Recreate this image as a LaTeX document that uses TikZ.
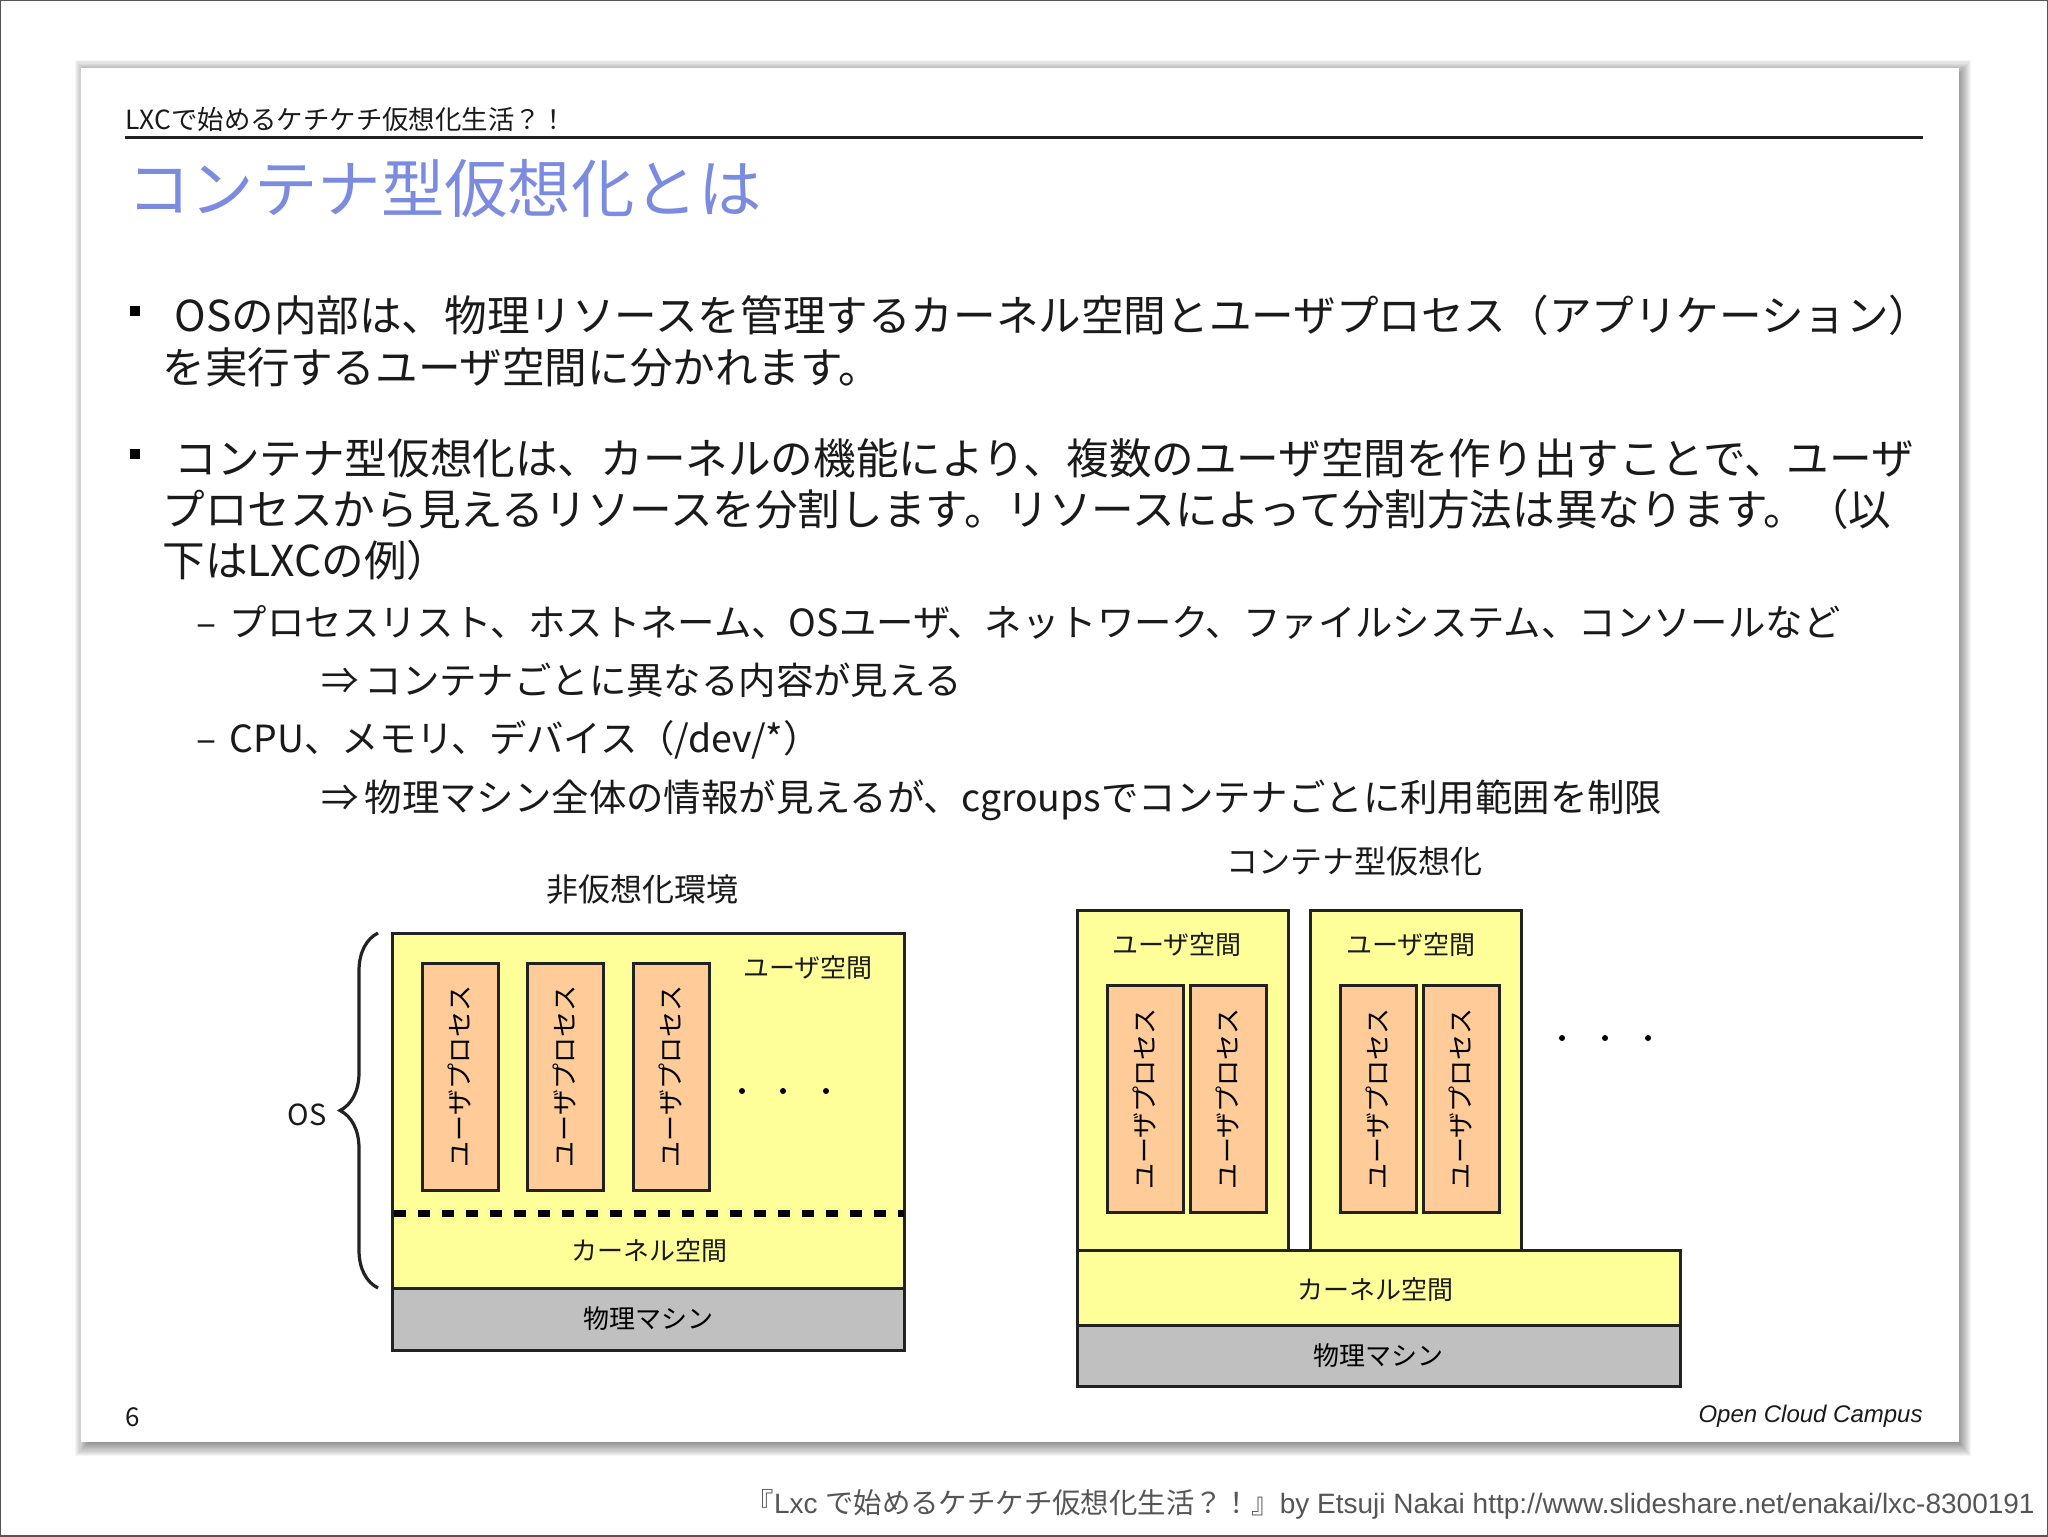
\documentclass[tikz,border=0pt]{standalone}
\usepackage{fontspec}
\setmainfont{Noto Sans CJK JP}
\newfontfamily\arialfont{Liberation Sans}
\usetikzlibrary{positioning, decorations.pathreplacing}

% full-width signs
\newcommand{\fwopen}{\symbol{"FF08}}
\newcommand{\fwclose}{\symbol{"FF09}}
\newcommand{\fwask}{\symbol{"FF1F}}
\newcommand{\fwbang}{\symbol{"FF01}}

\definecolor{titleblue}{HTML}{7B8CE0}
\definecolor{userfill}{HTML}{FFFF99}
\definecolor{procfill}{HTML}{FFCC99}
\definecolor{machfill}{HTML}{C0C0C0}
\definecolor{inkline}{HTML}{222222}
\definecolor{inktext}{HTML}{1A1A1A}
\definecolor{capgray}{HTML}{555555}

\tikzset{
	boxline/.style={draw=inkline, line width=1.5pt, inner sep=0pt, outer sep=0pt},
	userbox/.style={boxline, fill=userfill, anchor=north west, minimum width=105.5pt, minimum height=170pt},
	kernbox/.style={boxline, fill=userfill, anchor=north west},
	machbox/.style={boxline, fill=machfill, anchor=north west, font=\fontsize{13}{13}\selectfont},
	procbox/.style={boxline, fill=procfill, minimum width=38pt, minimum height=113.5pt, font=\fontsize{13}{13}\selectfont},
	dotmark/.style={circle, fill=black, inner sep=0pt, minimum size=3pt},
	bodyline/.style={anchor=west, inner sep=0pt, text=inktext, font=\fontsize{21.3}{21.3}\selectfont, text height=18.7pt, text depth=2.6pt},
	subline/.style={anchor=west, inner sep=0pt, text=inktext, font=\fontsize{18.7}{18.7}\selectfont, text height=16.5pt, text depth=2.2pt},
	smalltext/.style={inner sep=0pt, text=inktext, font=\fontsize{13}{13}\selectfont},
	headtext/.style={inner sep=0pt, text=inktext, font=\fontsize{16}{16}\selectfont},
	bulletmark/.style={fill=black, inner sep=0pt, minimum size=5pt},
}

\begin{document}
\begin{tikzpicture}[x=0.5pt, y=-0.5pt]
	\useasboundingbox (0,0) rectangle (2048,1536);
	\draw[capgray, line width=1pt] (0,0) rectangle (2048,1536);

	% slide with its shadow
	\foreach \s in {0,...,12}
		\fill[black, opacity=0.04] (75+1.1*\s,60+1.2*\s) rectangle (1971-\s,1456-1.1*\s);
	\fill[white] (81,68) rectangle (1959,1442);

	% heading
	\node[anchor=west, inner sep=0pt, text=inktext, font=\fontsize{13.2}{13.2}\selectfont] (header) at (125,119) {LXCで始めるケチケチ仮想化生活\fwask\fwbang};
	\coordinate (ruleL) at (125,137);
	\coordinate (ruleR) at (1923,137);
	\draw[inkline, line width=1.5pt] (ruleL) -- (ruleR);
	\node[anchor=west, inner sep=0pt, text=titleblue, font=\fontsize{31.7}{31.7}\selectfont] (title) at (127,189) {コンテナ型仮想化とは};

	% text lines
	\node[bulletmark] (bulletA) at (135,311) {};
	\node[bodyline] (lineA) at (174,315) {OSの内部は、物理リソースを管理するカーネル空間とユーザプロセス\fwopen アプリケーション\fwclose};
	\node[bodyline] (lineB) at (162,367) {を実行するユーザ空間に分かれます。};
	\node[bulletmark] (bulletB) at (135,454) {};
	\node[bodyline] (lineC) at (174,458) {コンテナ型仮想化は、カーネルの機能により、複数のユーザ空間を作り出すことで、ユーザ};
	\node[bodyline] (lineD) at (162,509) {プロセスから見えるリソースを分割します。リソースによって分割方法は異なります。\fwopen 以};
	\node[bodyline] (lineE) at (162,560) {下はLXCの例\fwclose};
	\node[subline] (lineF) at (196,622) {–\hspace{2.5pt} プロセスリスト、ホストネーム、OSユーザ、ネットワーク、ファイルシステム、コンソールなど};
	\node[subline] (lineG) at (321,680) {⇒\hspace{3pt}コンテナごとに異なる内容が見える};
	\node[subline] (lineH) at (196,738) {–\hspace{2.5pt} CPU、メモリ、デバイス\fwopen /dev/*\fwclose};
	\node[subline] (lineI) at (321,797) {⇒\hspace{3pt}物理マシン全体の情報が見えるが、cgroupsでコンテナごとに利用範囲を制限};

	% without virtualization
	\node[headtext] (plainhead) at (642,890) {非仮想化環境};
	\node[boxline, fill=userfill, anchor=north west, minimum width=256pt, minimum height=177.5pt] (osbox) at (392,933) {};
	\node[machbox, minimum width=256pt, minimum height=31pt] (plainmach) at (392,1288) {物理マシン};
	\foreach \x/\n in {460/A, 565/B, 671/C}
		\node[procbox] (plain\n) at (\x,1076.5) {\rotatebox{90}{ユーザプロセス}};
	\node[smalltext] (plainuser) at (808,968) {ユーザ空間};
	\node[smalltext] (plainkern) at (649,1251) {カーネル空間};
	\foreach \x in {742,783,826}
		\node[dotmark] at (\x,1091) {};
	\coordinate (splitL) at (394,1213);
	\coordinate (splitR) at (904,1213);
	\draw[black, line width=3.5pt, dash pattern=on 6pt off 6pt] (splitL) -- (splitR);
	\coordinate (braceB) at (378,1288);
	\coordinate (braceT) at (378,933);
	\draw[inkline, line width=1.6pt, decorate, decoration={brace, amplitude=19pt}] (braceB) -- (braceT);
	\node[inner sep=0pt, text=inktext, font=\fontsize{14.5}{14.5}\selectfont] (oslabel) at (307,1115) {OS};

	% container virtualization
	\node[headtext] (conthead) at (1354,861) {コンテナ型仮想化};
	\node[userbox] (userA) at (1077,910.5) {};
	\node[userbox, right=11pt of userA] (userB) {};
	\node[kernbox, minimum width=301.5pt, minimum height=37.75pt] (contkern) at (1077,1250) {};
	\node[machbox, minimum width=301.5pt, minimum height=30.25pt] (contmach) at (1077,1325.5) {物理マシン};
	\foreach \x/\n in {1145/A, 1228/B, 1378/C, 1461/D}
		\node[procbox] (cont\n) at (\x,1099) {\rotatebox{90}{ユーザプロセス}};
	\node[smalltext] (contuserA) at (1177,945) {ユーザ空間};
	\node[smalltext] (contuserB) at (1411,945) {ユーザ空間};
	\node[smalltext] (contkernlabel) at (1375,1290) {カーネル空間};
	\foreach \x in {1562,1605,1648}
		\node[dotmark] at (\x,1038) {};

	% footer
	\node[inner sep=0pt, text=inktext, font=\fontsize{13}{13}\selectfont] (pagenum) at (133,1417) {6};
	\node[anchor=east, inner sep=0pt, text=inktext, font=\arialfont\itshape\fontsize{12}{12}\selectfont] (brand) at (1923,1416) {Open Cloud Campus};
	\node[anchor=east, inner sep=0pt, text=capgray, font=\fontsize{14.2}{14.2}\selectfont] (caption) at (2035,1504) {『{\arialfont\fontsize{14}{14}\selectfont Lxc }で始めるケチケチ仮想化生活\fwask\fwbang 』{\arialfont\fontsize{14}{14}\selectfont by Etsuji Nakai http://www.slideshare.net/enakai/lxc-8300191}};
\end{tikzpicture}
\end{document}
